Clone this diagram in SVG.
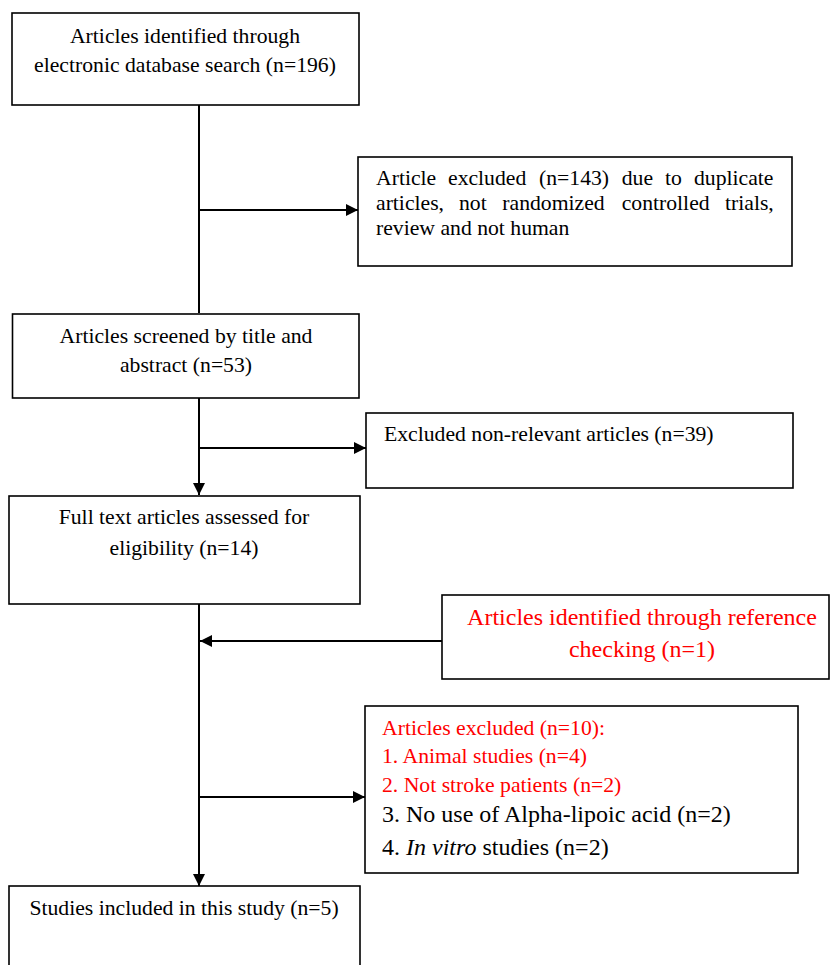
<svg xmlns="http://www.w3.org/2000/svg" width="830" height="965" viewBox="0 0 830 965">
<defs>
<style>
.box{fill:#fff;stroke:#000;stroke-width:1.6}
.t{font-family:"Liberation Serif","Times New Roman",serif;font-size:21.7px;fill:#000}
.c{text-anchor:middle}
.red{fill:#ff0000}
.big{font-size:24px}
.ln{stroke:#000;stroke-width:2;fill:none}
</style>
<marker id="ah" viewBox="0 0 12 12" refX="12" refY="6" markerWidth="12" markerHeight="12" markerUnits="userSpaceOnUse" orient="auto">
<path d="M0,0 L12,6 L0,12 z" fill="#000"/>
</marker>
</defs>
<rect width="830" height="965" fill="#fff"/>
<g id="connectors">
<line class="ln" x1="199" y1="105" x2="199" y2="313"/>
<line class="ln" x1="199" y1="210" x2="358" y2="210" marker-end="url(#ah)"/>
<line class="ln" x1="199" y1="398" x2="199" y2="495" marker-end="url(#ah)"/>
<line class="ln" x1="199" y1="448" x2="366" y2="448" marker-end="url(#ah)"/>
<line class="ln" x1="199" y1="604" x2="199" y2="886" marker-end="url(#ah)"/>
<line class="ln" x1="442" y1="641" x2="200" y2="641" marker-end="url(#ah)"/>
<line class="ln" x1="199" y1="797" x2="365" y2="797" marker-end="url(#ah)"/>
</g>
<g id="n1">
<rect class="box" x="12" y="13" width="347" height="92"/>
<text class="t c" x="185" y="43">Articles identified through</text>
<text class="t c" x="185" y="72">electronic database search (n=196)</text>
</g>
<g id="n2">
<rect class="box" x="358" y="157" width="434" height="109"/>
<text class="t" y="185"><tspan x="376">Article</tspan><tspan x="448">excluded</tspan><tspan x="539">(n=143)</tspan><tspan x="621.7">due</tspan><tspan x="665">to</tspan><tspan x="694">duplicate</tspan></text>
<text class="t" y="210"><tspan x="376">articles,</tspan><tspan x="459">not</tspan><tspan x="502.3">randomized</tspan><tspan x="621.7">controlled</tspan><tspan x="725">trials,</tspan></text>
<text class="t" x="376" y="235">review and not human</text>
</g>
<g id="n3">
<rect class="box" x="12.5" y="314" width="346.5" height="84"/>
<text class="t c" x="186" y="343">Articles screened by title and</text>
<text class="t c" x="186" y="372">abstract (n=53)</text>
</g>
<g id="n4">
<rect class="box" x="366" y="413" width="427" height="75"/>
<text class="t" x="384" y="441">Excluded non-relevant articles (n=39)</text>
</g>
<g id="n5">
<rect class="box" x="9" y="496" width="351" height="108"/>
<text class="t c" x="184" y="524">Full text articles assessed for</text>
<text class="t c" x="184" y="555">eligibility (n=14)</text>
</g>
<g id="n6">
<rect class="box" x="442" y="595" width="387" height="84"/>
<text class="t c red big" x="642" y="625">Articles identified through reference</text>
<text class="t c red big" x="642" y="657">checking (n=1)</text>
</g>
<g id="n7">
<rect class="box" x="365" y="706" width="433" height="167"/>
<text class="t red" x="382" y="735">Articles excluded (n=10):</text>
<text class="t red" x="382" y="763">1. Animal studies (n=4)</text>
<text class="t red" x="382" y="792">2. Not stroke patients (n=2)</text>
<text class="t big" x="382" y="822">3. No use of Alpha-lipoic acid (n=2)</text>
<text class="t big" x="382" y="855">4. <tspan font-style="italic">In vitro</tspan> studies (n=2)</text>
</g>
<g id="n8">
<rect class="box" x="9" y="886" width="351" height="90"/>
<text class="t c" x="184" y="915">Studies included in this study (n=5)</text>
</g>
</svg>
